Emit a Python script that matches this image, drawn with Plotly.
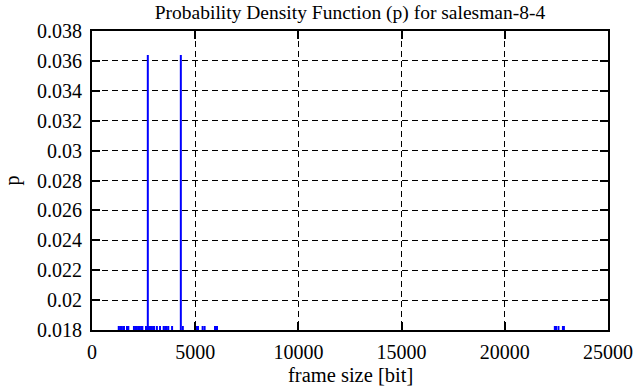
import plotly.graph_objects as go

# frame sizes [bit] and probabilities
frame_size = [1296, 1368, 1440, 1512, 1552, 1696, 1760,
              2032, 2104, 2176, 2248, 2320, 2392, 2440,
              2616, 2704, 2760, 2832, 2904, 2976, 3008,
              3144, 3296, 3472, 3544, 3616, 3696, 3880,
              4304, 4400, 5088, 5136, 5360, 5456, 5960, 6056,
              22424, 22480, 22600, 22816, 22864]
probability = [0.0011, 0.0009, 0.0013, 0.0008, 0.0010, 0.0007, 0.0012,
               0.0015, 0.0010, 0.0018, 0.0012, 0.0009, 0.0014, 0.0011,
               0.0016, 0.0364, 0.0013, 0.0010, 0.0008, 0.0012, 0.0009,
               0.0007, 0.0006, 0.0010, 0.0008, 0.0007, 0.0006, 0.0005,
               0.0364, 0.0006, 0.0005, 0.0004, 0.0005, 0.0004, 0.0003, 0.0003,
               0.0002, 0.0002, 0.0002, 0.0002, 0.0002]

x_ticks = [0, 5000, 10000, 15000, 20000, 25000]
x_tick_text = ["0", "5000", "10000", "15000", "20000", "25000"]
y_ticks = [0.018, 0.020, 0.022, 0.024, 0.026, 0.028, 0.030, 0.032, 0.034, 0.036, 0.038]
y_tick_text = ["0.018", "0.02", "0.022", "0.024", "0.026", "0.028", "0.03",
               "0.032", "0.034", "0.036", "0.038"]

YMIN, YMAX = 0.018, 0.038
STUB = (YMAX - YMIN) * 4 / 299  # clipped impulses show as a small stub at the bottom

xs, ys = [], []
for f, p in zip(frame_size, probability):
    top = p if p > YMIN + STUB else YMIN + STUB
    xs += [f, f, None]
    ys += [YMIN, top, None]

FONT = "Liberation Serif"

fig = go.Figure()
fig.add_trace(go.Scatter(x=xs, y=ys, mode="lines",
                         line=dict(color="#0000ff", width=2),
                         hoverinfo="skip", showlegend=False))

axis_common = dict(showline=True, linecolor="black", linewidth=2, mirror="allticks",
                   ticks="inside", ticklen=8, tickwidth=1.5, tickcolor="black",
                   showgrid=True, gridcolor="black", gridwidth=1, griddash="6px,4px",
                   zeroline=False, automargin=False,
                   tickfont=dict(family=FONT, size=20, color="black"))

fig.update_xaxes(range=[0, 25000], tickvals=x_ticks, ticktext=x_tick_text,
                 ticklabelstandoff=3, **axis_common)
fig.update_yaxes(range=[YMIN, YMAX], tickvals=y_ticks, ticktext=y_tick_text,
                 ticklabelstandoff=4, **axis_common)

fig.update_layout(
    width=636, height=387,
    margin=dict(l=92, r=28, t=31, b=57),
    paper_bgcolor="white", plot_bgcolor="white",
    title=dict(text="Probability Density Function (p) for salesman-8-4",
               font=dict(family=FONT, size=19.5, color="black"),
               x=0.5, xref="paper", xanchor="center",
               y=1 - 12 / 387, yref="container", yanchor="middle"),
    annotations=[
        dict(text="frame size [bit]", xref="paper", yref="paper",
             x=0.5, y=(330 - 375) / 299, xanchor="center", yanchor="middle",
             showarrow=False, font=dict(family=FONT, size=20.5, color="black")),
        dict(text="p", xref="paper", yref="paper",
             x=(12 - 92) / 516, y=0.5, xanchor="center", yanchor="middle",
             textangle=-90, showarrow=False,
             font=dict(family=FONT, size=20, color="black")),
    ],
)

fig.write_html("out.html", config={"displayModeBar": False},
               post_script="document.body.style.margin='0';")
